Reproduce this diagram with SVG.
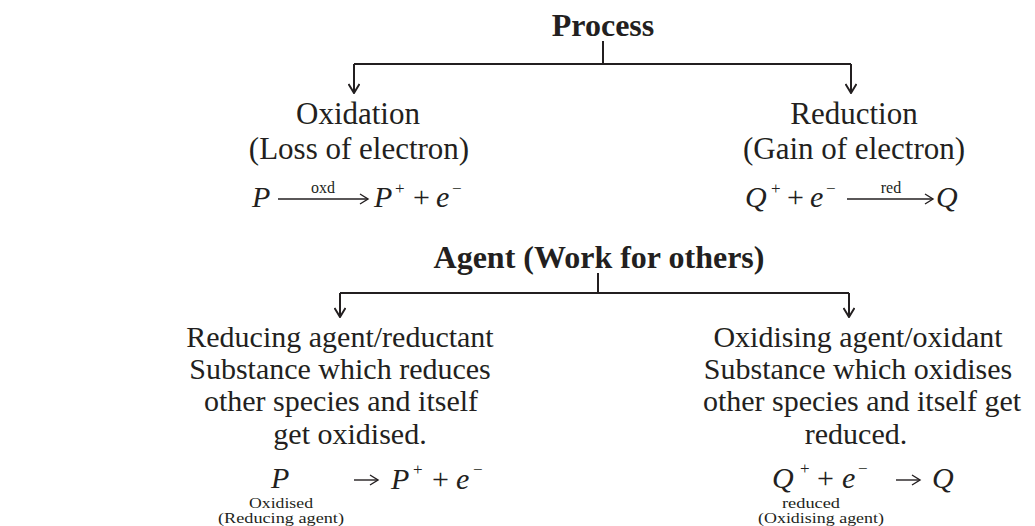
<svg xmlns="http://www.w3.org/2000/svg" width="1035" height="526" viewBox="0 0 1035 526">
<style>
text{font-family:"Liberation Serif","Times New Roman",serif;fill:#231f20;}
.h{font-size:32px;font-weight:bold;text-anchor:middle;}
.t{font-size:31px;text-anchor:middle;}
.b{font-size:30px;text-anchor:middle;}
.i{font-size:30px;font-style:italic;}
.r{font-size:30px;}
.sup{font-size:17px;}
.lab{font-size:16px;text-anchor:middle;}
.sm{font-size:14px;text-anchor:middle;}
.ln{stroke:#231f20;stroke-width:2;fill:none;}
.eq{stroke:#231f20;stroke-width:1.4;fill:none;}
</style>
<defs>
<marker id="ah" markerWidth="12" markerHeight="12" refX="6" refY="11" orient="0" markerUnits="userSpaceOnUse">
<path d="M0.5,2 L6,11 L11.5,2" fill="none" stroke="#231f20" stroke-width="2"/>
</marker>
<marker id="eh" markerWidth="12" markerHeight="12" refX="10" refY="6" orient="auto" markerUnits="userSpaceOnUse">
<path d="M2,1 L10,6 L2,11" fill="none" stroke="#231f20" stroke-width="1.4"/>
</marker>
</defs>
<g id="connectors">
<path class="ln" d="M603,41 V64"/>
<path class="ln" d="M354,64 H851"/>
<path class="ln" d="M354,64 V93" marker-end="url(#ah)"/>
<path class="ln" d="M851,64 V93" marker-end="url(#ah)"/>
<path class="ln" d="M598,273 V293"/>
<path class="ln" d="M340,293 H849"/>
<path class="ln" d="M340,293 V317" marker-end="url(#ah)"/>
<path class="ln" d="M849,293 V317" marker-end="url(#ah)"/>
</g>
<g id="process">
<text class="h" x="603" y="36">Process</text>
</g>
<g id="oxidation">
<text class="t" x="358" y="124">Oxidation</text>
<text class="t" x="359" y="159">(Loss of electron)</text>
<text class="i" x="252" y="207">P</text>
<path class="eq" d="M278,199 H368" marker-end="url(#eh)"/>
<text class="lab" x="323" y="193">oxd</text>
<text class="i" x="374" y="207">P</text>
<text class="r sup" x="395" y="194">+</text>
<text class="r" x="413" y="207">+</text>
<text class="i" x="436" y="207">e</text>
<text class="r sup" x="452" y="194">−</text>
</g>
<g id="reduction">
<text class="t" x="854" y="124">Reduction</text>
<text class="t" x="854" y="159">(Gain of electron)</text>
<text class="i" x="745" y="207">Q</text>
<text class="r sup" x="771" y="194">+</text>
<text class="r" x="787" y="207">+</text>
<text class="i" x="810" y="207">e</text>
<text class="r sup" x="826" y="194">−</text>
<path class="eq" d="M847,199 H933" marker-end="url(#eh)"/>
<text class="lab" x="891" y="193">red</text>
<text class="i" x="936" y="207">Q</text>
</g>
<g id="agent">
<text class="h" x="599" y="268">Agent (Work for others)</text>
</g>
<g id="reducing-agent">
<text class="b" x="340" y="347">Reducing agent/reductant</text>
<text class="b" x="340" y="379">Substance which reduces</text>
<text class="b" x="341" y="411">other species and itself</text>
<text class="b" x="350" y="444">get oxidised.</text>
<text class="i" x="271" y="488">P</text>
<text class="sm" x="281" y="508" textLength="64" lengthAdjust="spacingAndGlyphs">Oxidised</text>
<text class="sm" x="281" y="523" textLength="126" lengthAdjust="spacingAndGlyphs">(Reducing agent)</text>
<path class="eq" d="M354,480 H378" marker-end="url(#eh)"/>
<text class="i" x="391" y="489">P</text>
<text class="r sup" x="413" y="475">+</text>
<text class="r" x="432" y="489">+</text>
<text class="i" x="456" y="489">e</text>
<text class="r sup" x="473" y="475">−</text>
</g>
<g id="oxidising-agent">
<text class="b" x="858" y="347">Oxidising agent/oxidant</text>
<text class="b" x="858" y="379">Substance which oxidises</text>
<text class="b" x="862" y="411">other species and itself get</text>
<text class="b" x="856" y="444">reduced.</text>
<text class="i" x="772" y="488">Q</text>
<text class="r sup" x="800" y="474">+</text>
<text class="r" x="817" y="488">+</text>
<text class="i" x="842" y="488">e</text>
<text class="r sup" x="858" y="474">−</text>
<path class="eq" d="M896,480 H920" marker-end="url(#eh)"/>
<text class="i" x="932" y="488">Q</text>
<text class="sm" x="811" y="508" textLength="58" lengthAdjust="spacingAndGlyphs">reduced</text>
<text class="sm" x="821" y="523" textLength="126" lengthAdjust="spacingAndGlyphs">(Oxidising agent)</text>
</g>
</svg>
